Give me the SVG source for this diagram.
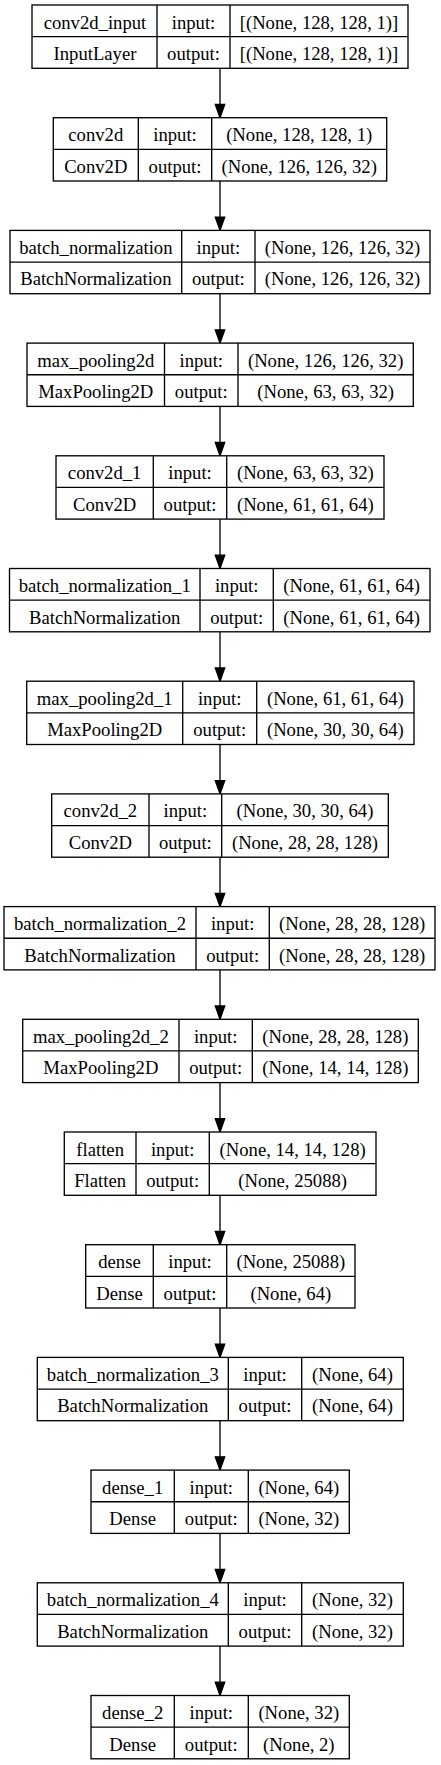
<svg xmlns="http://www.w3.org/2000/svg" width="441" height="1765" viewBox="0 0 441 1765">
<style>
.b{fill:#fff;stroke:#000;stroke-width:1.33}
.l{stroke:#000;stroke-width:1.33;fill:none}
text{font-family:"Liberation Serif","Times New Roman","DejaVu Serif",serif;font-size:18.67px;fill:#000;text-anchor:middle}
.e{stroke:#000;stroke-width:1.33}
.h{fill:#000;stroke:#000;stroke-width:1.33}
</style>
<rect width="441" height="1765" fill="#fff"/>
<g id="connectors">
<line class="e" x1="220" y1="68.3" x2="220" y2="104.4"/><polygon class="h" points="220,117.7 215.3,104.4 224.7,104.4"/>
<line class="e" x1="220" y1="181" x2="220" y2="217.1"/><polygon class="h" points="220,230.4 215.3,217.1 224.7,217.1"/>
<line class="e" x1="220" y1="293.7" x2="220" y2="329.8"/><polygon class="h" points="220,343.1 215.3,329.8 224.7,329.8"/>
<line class="e" x1="220" y1="406.4" x2="220" y2="442.5"/><polygon class="h" points="220,455.8 215.3,442.5 224.7,442.5"/>
<line class="e" x1="220" y1="519.1" x2="220" y2="555.2"/><polygon class="h" points="220,568.5 215.3,555.2 224.7,555.2"/>
<line class="e" x1="220" y1="631.8" x2="220" y2="667.9"/><polygon class="h" points="220,681.2 215.3,667.9 224.7,667.9"/>
<line class="e" x1="220" y1="744.5" x2="220" y2="780.6"/><polygon class="h" points="220,793.9 215.3,780.6 224.7,780.6"/>
<line class="e" x1="220" y1="857.2" x2="220" y2="893.3"/><polygon class="h" points="220,906.6 215.3,893.3 224.7,893.3"/>
<line class="e" x1="220" y1="969.9" x2="220" y2="1006"/><polygon class="h" points="220,1019.3 215.3,1006 224.7,1006"/>
<line class="e" x1="220" y1="1082.6" x2="220" y2="1118.7"/><polygon class="h" points="220,1132 215.3,1118.7 224.7,1118.7"/>
<line class="e" x1="220" y1="1195.3" x2="220" y2="1231.4"/><polygon class="h" points="220,1244.7 215.3,1231.4 224.7,1231.4"/>
<line class="e" x1="220" y1="1308" x2="220" y2="1344.1"/><polygon class="h" points="220,1357.4 215.3,1344.1 224.7,1344.1"/>
<line class="e" x1="220" y1="1420.7" x2="220" y2="1456.8"/><polygon class="h" points="220,1470.1 215.3,1456.8 224.7,1456.8"/>
<line class="e" x1="220" y1="1533.4" x2="220" y2="1569.5"/><polygon class="h" points="220,1582.8 215.3,1569.5 224.7,1569.5"/>
<line class="e" x1="220" y1="1646.1" x2="220" y2="1682.2"/><polygon class="h" points="220,1695.5 215.3,1682.2 224.7,1682.2"/>
</g>
<g id="conv2d_input" transform="translate(0,5)">
<rect class="b" x="32" y="0" width="376" height="63.3"/>
<path class="l" d="M32 31.65H408M157 0V63.3M230 0V63.3"/>
<text x="95" y="23.5">conv2d_input</text><text x="193.5" y="23.5">input:</text><text x="319" y="23.5">[(None, 128, 128, 1)]</text>
<text x="95" y="55">InputLayer</text><text x="193.5" y="55">output:</text><text x="319" y="55">[(None, 128, 128, 1)]</text>
</g>
<g id="conv2d" transform="translate(0,117.7)">
<rect class="b" x="53.3" y="0" width="333.4" height="63.3"/>
<path class="l" d="M53.3 31.65H386.7M138.3 0V63.3M211.7 0V63.3"/>
<text x="95.8" y="23.5">conv2d</text><text x="175" y="23.5">input:</text><text x="299.2" y="23.5">(None, 128, 128, 1)</text>
<text x="95.8" y="55">Conv2D</text><text x="175" y="55">output:</text><text x="299.2" y="55">(None, 126, 126, 32)</text>
</g>
<g id="batch_normalization" transform="translate(0,230.4)">
<rect class="b" x="10" y="0" width="420" height="63.3"/>
<path class="l" d="M10 31.65H430M181.7 0V63.3M255 0V63.3"/>
<text x="95.85" y="23.5">batch_normalization</text><text x="218.35" y="23.5">input:</text><text x="342.5" y="23.5">(None, 126, 126, 32)</text>
<text x="95.85" y="55">BatchNormalization</text><text x="218.35" y="55">output:</text><text x="342.5" y="55">(None, 126, 126, 32)</text>
</g>
<g id="max_pooling2d" transform="translate(0,343.1)">
<rect class="b" x="27" y="0" width="386.3" height="63.3"/>
<path class="l" d="M27 31.65H413.3M164.5 0V63.3M238 0V63.3"/>
<text x="95.75" y="23.5">max_pooling2d</text><text x="201.25" y="23.5">input:</text><text x="325.65" y="23.5">(None, 126, 126, 32)</text>
<text x="95.75" y="55">MaxPooling2D</text><text x="201.25" y="55">output:</text><text x="325.65" y="55">(None, 63, 63, 32)</text>
</g>
<g id="conv2d_1" transform="translate(0,455.8)">
<rect class="b" x="56" y="0" width="328" height="63.3"/>
<path class="l" d="M56 31.65H384M153.3 0V63.3M226.7 0V63.3"/>
<text x="104.65" y="23.5">conv2d_1</text><text x="190" y="23.5">input:</text><text x="305.35" y="23.5">(None, 63, 63, 32)</text>
<text x="104.65" y="55">Conv2D</text><text x="190" y="55">output:</text><text x="305.35" y="55">(None, 61, 61, 64)</text>
</g>
<g id="batch_normalization_1" transform="translate(0,568.5)">
<rect class="b" x="9.5" y="0" width="420.5" height="63.3"/>
<path class="l" d="M9.5 31.65H430M200 0V63.3M273.3 0V63.3"/>
<text x="104.75" y="23.5">batch_normalization_1</text><text x="236.65" y="23.5">input:</text><text x="351.65" y="23.5">(None, 61, 61, 64)</text>
<text x="104.75" y="55">BatchNormalization</text><text x="236.65" y="55">output:</text><text x="351.65" y="55">(None, 61, 61, 64)</text>
</g>
<g id="max_pooling2d_1" transform="translate(0,681.2)">
<rect class="b" x="26.7" y="0" width="387.3" height="63.3"/>
<path class="l" d="M26.7 31.65H414M182.7 0V63.3M256.7 0V63.3"/>
<text x="104.7" y="23.5">max_pooling2d_1</text><text x="219.7" y="23.5">input:</text><text x="335.35" y="23.5">(None, 61, 61, 64)</text>
<text x="104.7" y="55">MaxPooling2D</text><text x="219.7" y="55">output:</text><text x="335.35" y="55">(None, 30, 30, 64)</text>
</g>
<g id="conv2d_2" transform="translate(0,793.9)">
<rect class="b" x="51.7" y="0" width="336.6" height="63.3"/>
<path class="l" d="M51.7 31.65H388.3M149 0V63.3M221.7 0V63.3"/>
<text x="100.35" y="23.5">conv2d_2</text><text x="185.35" y="23.5">input:</text><text x="305" y="23.5">(None, 30, 30, 64)</text>
<text x="100.35" y="55">Conv2D</text><text x="185.35" y="55">output:</text><text x="305" y="55">(None, 28, 28, 128)</text>
</g>
<g id="batch_normalization_2" transform="translate(0,906.6)">
<rect class="b" x="4" y="0" width="431" height="63.3"/>
<path class="l" d="M4 31.65H435M196 0V63.3M269.3 0V63.3"/>
<text x="100" y="23.5">batch_normalization_2</text><text x="232.65" y="23.5">input:</text><text x="352.15" y="23.5">(None, 28, 28, 128)</text>
<text x="100" y="55">BatchNormalization</text><text x="232.65" y="55">output:</text><text x="352.15" y="55">(None, 28, 28, 128)</text>
</g>
<g id="max_pooling2d_2" transform="translate(0,1019.3)">
<rect class="b" x="22.7" y="0" width="395.6" height="63.3"/>
<path class="l" d="M22.7 31.65H418.3M179 0V63.3M252.3 0V63.3"/>
<text x="100.85" y="23.5">max_pooling2d_2</text><text x="215.65" y="23.5">input:</text><text x="335.3" y="23.5">(None, 28, 28, 128)</text>
<text x="100.85" y="55">MaxPooling2D</text><text x="215.65" y="55">output:</text><text x="335.3" y="55">(None, 14, 14, 128)</text>
</g>
<g id="flatten" transform="translate(0,1132)">
<rect class="b" x="64.3" y="0" width="311.7" height="63.3"/>
<path class="l" d="M64.3 31.65H376M136 0V63.3M209.3 0V63.3"/>
<text x="100.15" y="23.5">flatten</text><text x="172.65" y="23.5">input:</text><text x="292.65" y="23.5">(None, 14, 14, 128)</text>
<text x="100.15" y="55">Flatten</text><text x="172.65" y="55">output:</text><text x="292.65" y="55">(None, 25088)</text>
</g>
<g id="dense" transform="translate(0,1244.7)">
<rect class="b" x="85.7" y="0" width="269.3" height="63.3"/>
<path class="l" d="M85.7 31.65H355M153.3 0V63.3M226.7 0V63.3"/>
<text x="119.5" y="23.5">dense</text><text x="190" y="23.5">input:</text><text x="290.85" y="23.5">(None, 25088)</text>
<text x="119.5" y="55">Dense</text><text x="190" y="55">output:</text><text x="290.85" y="55">(None, 64)</text>
</g>
<g id="batch_normalization_3" transform="translate(0,1357.4)">
<rect class="b" x="37.3" y="0" width="366" height="63.3"/>
<path class="l" d="M37.3 31.65H403.3M228.3 0V63.3M301.7 0V63.3"/>
<text x="132.8" y="23.5">batch_normalization_3</text><text x="265" y="23.5">input:</text><text x="352.5" y="23.5">(None, 64)</text>
<text x="132.8" y="55">BatchNormalization</text><text x="265" y="55">output:</text><text x="352.5" y="55">(None, 64)</text>
</g>
<g id="dense_1" transform="translate(0,1470.1)">
<rect class="b" x="91" y="0" width="258.3" height="63.3"/>
<path class="l" d="M91 31.65H349.3M174.3 0V63.3M248.3 0V63.3"/>
<text x="132.65" y="23.5">dense_1</text><text x="211.3" y="23.5">input:</text><text x="298.8" y="23.5">(None, 64)</text>
<text x="132.65" y="55">Dense</text><text x="211.3" y="55">output:</text><text x="298.8" y="55">(None, 32)</text>
</g>
<g id="batch_normalization_4" transform="translate(0,1582.8)">
<rect class="b" x="37.3" y="0" width="366" height="63.3"/>
<path class="l" d="M37.3 31.65H403.3M228.3 0V63.3M301.7 0V63.3"/>
<text x="132.8" y="23.5">batch_normalization_4</text><text x="265" y="23.5">input:</text><text x="352.5" y="23.5">(None, 32)</text>
<text x="132.8" y="55">BatchNormalization</text><text x="265" y="55">output:</text><text x="352.5" y="55">(None, 32)</text>
</g>
<g id="dense_2" transform="translate(0,1695.5)">
<rect class="b" x="91" y="0" width="258.3" height="63.3"/>
<path class="l" d="M91 31.65H349.3M174.3 0V63.3M248.3 0V63.3"/>
<text x="132.65" y="23.5">dense_2</text><text x="211.3" y="23.5">input:</text><text x="298.8" y="23.5">(None, 32)</text>
<text x="132.65" y="55">Dense</text><text x="211.3" y="55">output:</text><text x="298.8" y="55">(None, 2)</text>
</g>
</svg>
